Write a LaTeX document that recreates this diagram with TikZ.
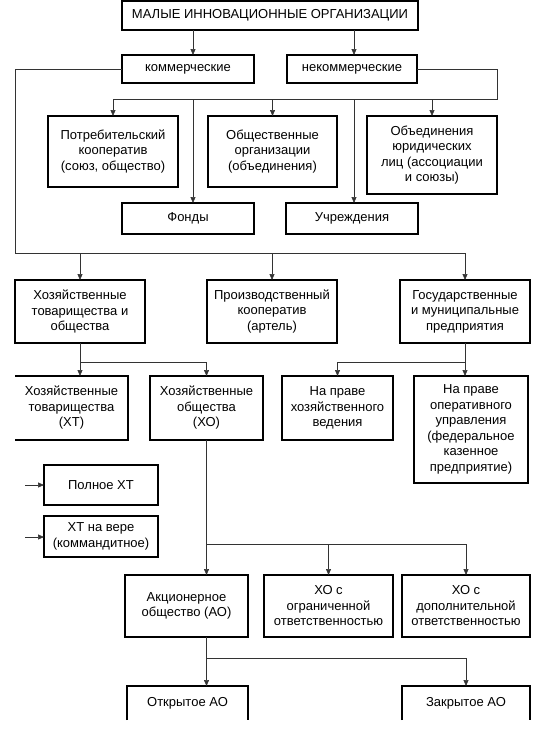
\documentclass[tikz,border=0pt]{standalone}
\usepackage{fontspec}
\setmainfont{Liberation Sans}
\usetikzlibrary{arrows.meta}
\begin{document}
\begin{tikzpicture}[x=1pt,y=-1pt,
  box/.style={draw, line width=1.5pt, inner sep=0pt, outer sep=0pt, align=center,
    font=\fontsize{13}{15.5}\selectfont},
  obox/.style={box, draw=none},
  edge/.style={line width=1.5pt},
  conn/.style={line width=0.6pt, black!80},
  arr/.style={conn, -{Triangle[length=6pt,width=5pt]}}]
\useasboundingbox (0,0) rectangle (551,731);
\fill[white] (0,0) rectangle (551,731);
% level 0/1
\node[box, minimum width=296pt, minimum height=29pt] (top) at (270,15.5) {МАЛЫЕ ИННОВАЦИОННЫЕ ОРГАНИЗАЦИИ};
\node[box, minimum width=132pt, minimum height=28pt] (comm) at (188,69) {коммерческие};
\node[box, minimum width=130pt, minimum height=28pt] (nekomm) at (352,69) {некоммерческие};
% level 2
\node[box, minimum width=130pt, minimum height=71pt] (potr) at (113,151.5) {Потребительский\\кооператив\\(союз, общество)};
\node[box, minimum width=129pt, minimum height=71pt] (obsh) at (272.5,151.5) {Общественные\\организации\\(объединения)};
\node[box, minimum width=130pt, minimum height=78pt] (obed) at (432,155) {Объединения\\юридических\\лиц (ассоциации\\и союзы)};
\node[box, minimum width=132pt, minimum height=31pt] (fond) at (188,218.5) {Фонды};
\node[box, minimum width=132pt, minimum height=31pt] (uchr) at (352,218.5) {Учреждения};
% level 3
\node[box, minimum width=130pt, minimum height=63pt] (hoz) at (80,311.5) {Хозяйственные\\товарищества и\\общества};
\node[box, minimum width=130pt, minimum height=63pt] (proizv) at (272,311.5) {Производственный\\кооператив\\(артель)};
\node[box, minimum width=130pt, minimum height=63pt] (gos) at (465,311.5) {Государственные\\и муниципальные\\предприятия};
% level 4
\node[obox, minimum width=113pt, minimum height=64pt] (xt) at (71.5,408) {Хозяйственные\\товарищества\\(ХТ)};
\draw[edge] (xt.north west) -- (xt.north east) -- (xt.south east) -- (xt.south west);
\node[box, minimum width=113pt, minimum height=64pt] (xo) at (206.5,408) {Хозяйственные\\общества\\(ХО)};
\node[box, minimum width=111pt, minimum height=64pt] (hv) at (337.5,408) {На праве\\хозяйственного\\ведения};
\node[box, minimum width=114pt, minimum height=107pt] (opr) at (471,429.5) {На праве\\оперативного\\управления\\(федеральное\\казенное\\предприятие)};
\node[box, minimum width=114pt, minimum height=40pt] (poln) at (101,485) {Полное ХТ};
\node[box, minimum width=114pt, minimum height=41pt] (vera) at (101,536.5) {ХТ на вере\\(коммандитное)};
% level 5
\node[box, minimum width=123pt, minimum height=62pt] (ao) at (186.5,606) {Акционерное\\общество (АО)};
\node[box, minimum width=129pt, minimum height=62pt] (ogr) at (328.5,606) {ХО с\\ограниченной\\ответственностью};
\node[box, minimum width=128pt, minimum height=62pt] (dop) at (466,606) {ХО с\\дополнительной\\ответственностью};
% level 6 (cut off at the bottom)
\node[obox, minimum width=121pt, minimum height=34pt] (otkr) at (187.5,703) {Открытое АО};
\draw[edge] (otkr.south west) -- (otkr.north west) -- (otkr.north east) -- (otkr.south east);
\node[obox, minimum width=128pt, minimum height=34pt] (zakr) at (466,703) {Закрытое АО};
\draw[edge] (zakr.south west) -- (zakr.north west) -- (zakr.north east) -- (zakr.south east);
% connectors level 0 -> 1
\coordinate (xa) at (193,0);
\coordinate (xb) at (354,0);
\draw[arr] (top.south -| xa) -- (comm.north -| xa);
\draw[arr] (top.south -| xb) -- (nekomm.north -| xb);
% non-commercial branch
\coordinate (nR) at (497,99);
\coordinate (nL) at (113,99);
\draw[conn] (nekomm.east) -| (nR) -- (nL);
\draw[arr] (nL) -- (potr.north);
\draw[arr] (obsh.north |- nR) -- (obsh.north);
\draw[arr] (obed.north |- nR) -- (obed.north);
\draw[arr] (xa |- nR) -- (xa |- fond.north);
\draw[arr] (xb |- nR) -- (xb |- uchr.north);
% commercial branch
\coordinate (cL) at (15,253);
\coordinate (cR) at (465,253);
\draw[conn] (comm.west) -| (cL) -- (cR);
\draw[arr] (hoz.north |- cL) -- (hoz.north);
\draw[arr] (proizv.north |- cL) -- (proizv.north);
\draw[arr] (cR) -- (gos.north);
% hoz -> xt, xo
\coordinate (b1) at (80,362);
\coordinate (b2) at (206.5,362);
\draw[conn] (hoz.south) -- (b1) -- (b2);
\draw[arr] (b1) -- (b1 |- xt.north);
\draw[arr] (b2) -- (xo.north);
% gos -> hv, opr
\coordinate (g1) at (465,362);
\coordinate (g2) at (337.5,362);
\draw[conn] (gos.south) -- (g1) -- (g2);
\draw[arr] (g2) -- (hv.north);
\draw[arr] (g1) -- (g1 |- opr.north);
% xt kinds
\coordinate (pa) at (25,485);
\coordinate (va) at (25,537);
\draw[arr] (pa) -- (poln.west |- pa);
\draw[arr] (va) -- (vera.west |- va);
% xo -> ao, ogr, dop
\coordinate (c1) at (206.5,544);
\coordinate (c3) at (466,544);
\draw[conn] (xo.south) -- (c1) -- (c3);
\draw[arr] (c1) -- (c1 |- ao.north);
\draw[arr] (ogr.north |- c1) -- (ogr.north);
\draw[arr] (c3) -- (dop.north);
% ao -> otkr, zakr
\coordinate (d1) at (206.5,658);
\coordinate (d2) at (466,658);
\draw[conn] (ao.south -| d1) -- (d1) -- (d2);
\draw[arr] (d1) -- (d1 |- otkr.north);
\draw[arr] (d2) -- (zakr.north);
\end{tikzpicture}
\end{document}
